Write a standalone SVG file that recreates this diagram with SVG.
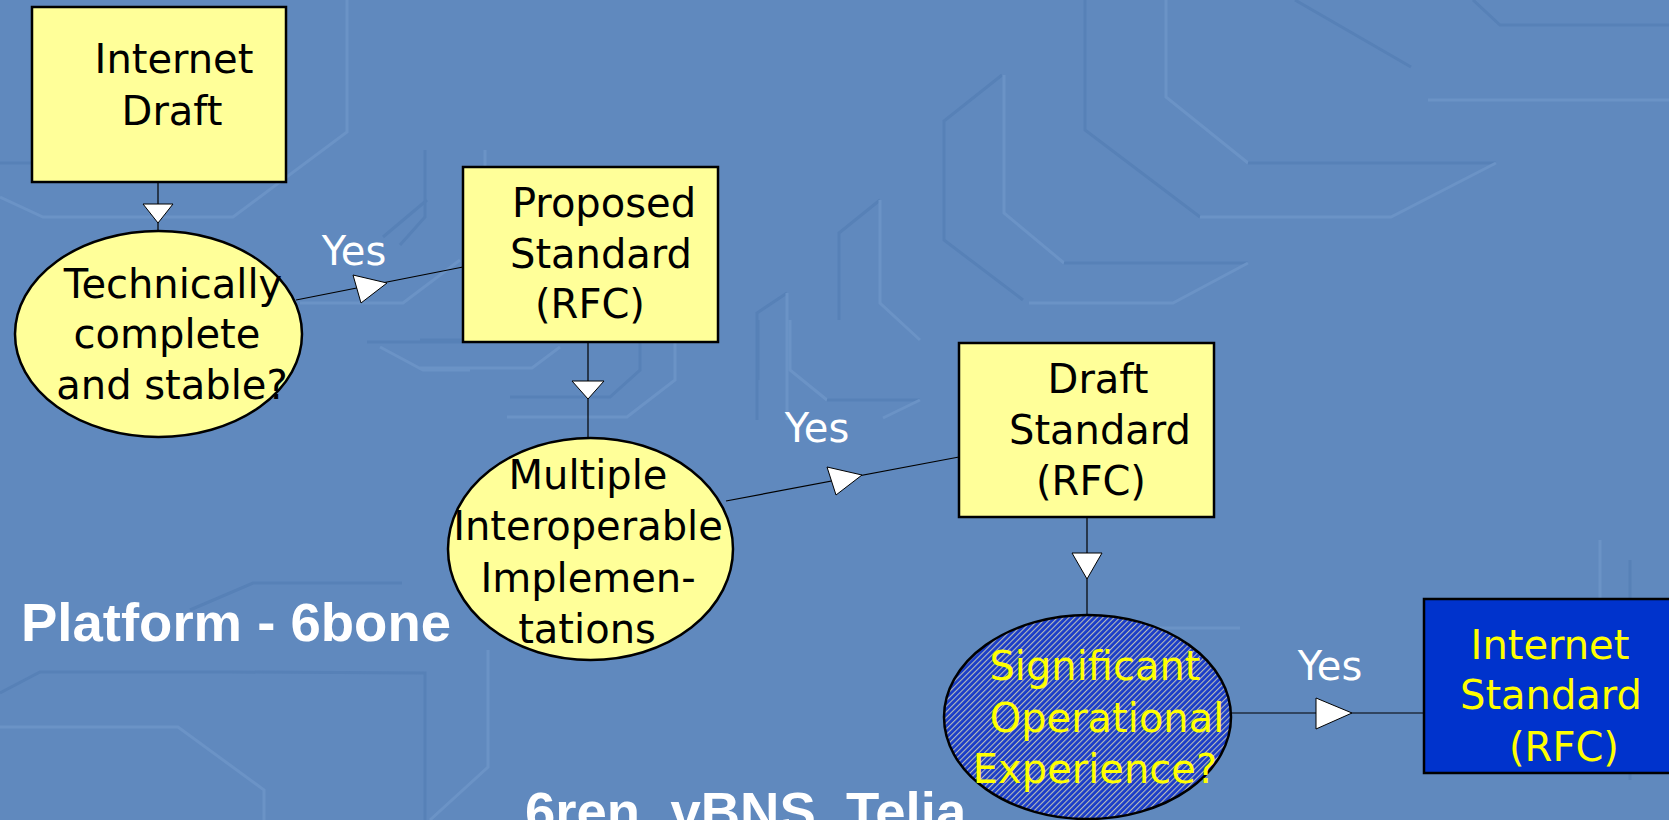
<svg xmlns="http://www.w3.org/2000/svg" width="1669" height="820" viewBox="0 0 1669 820">
  <defs>
    <pattern id="hatch" patternUnits="userSpaceOnUse" width="4" height="4" patternTransform="rotate(45)">
      <rect width="4" height="4" fill="#1a3cc8"/>
      <rect x="0" y="0" width="1.1" height="4" fill="#b8bdb8"/>
    </pattern>
    <style>
      .hi { fill: none; stroke: #6b93c6; stroke-width: 3; }
      .lo { fill: none; stroke: #5781b7; stroke-width: 3; }
      .box { fill: #ffff99; stroke: #000; stroke-width: 2.5; }
      .oval { fill: #ffff99; stroke: #000; stroke-width: 2.5; }
      .wire { fill: none; stroke: #000; stroke-width: 1.2; }
      .head { fill: #fff; stroke: #000; stroke-width: 1; }
      .t { font-family: "DejaVu Sans", "Liberation Sans", sans-serif; font-size: 40px; text-anchor: middle; fill: #000; }
      .y { fill: #ffff00; }
      .w { fill: #fff; }
      .big { font-family: "Liberation Sans", Arial, sans-serif; font-weight: bold; font-size: 54.5px; fill: #fff; }
    </style>
  </defs>

  <!-- backdrop with faint embossed circuit traces -->
  <rect width="1669" height="820" fill="#6089be"/>
  <g id="traces">
    <polyline class="hi" points="0,197 43,217 233,217 347,132 347,0"/>
    <polyline class="lo" points="0,163 95,163"/>
    <polyline class="lo" points="427,200 383,237"/>
    <polyline class="hi" points="300,303 403,303 460,260"/>
    <polyline class="lo" points="367,342 470,342"/>
    <polyline class="hi" points="380,347 423,370 470,370"/>
    <polyline class="lo" points="425,150 425,217 400,245"/>
    <polyline class="hi" points="485,150 485,168"/>
    <polyline class="hi" points="420,368 532,368 560,347"/>
    <polyline class="lo" points="420,340 463,340"/>
    <polyline class="lo" points="640,343 640,370 610,397 510,397"/>
    <polyline class="hi" points="675,342 675,380 627,417 507,417"/>
    <polyline class="lo" points="1002,75 944,121 944,240 1023,300"/>
    <polyline class="hi" points="1004,75 1004,213 1064,263"/>
    <polyline class="lo" points="1064,263 1248,263"/>
    <polyline class="hi" points="1248,263 1173,303 1029,303"/>
    <polyline class="lo" points="1085,0 1085,130 1200,217"/>
    <polyline class="hi" points="1166,0 1166,97 1248,163"/>
    <polyline class="lo" points="1248,163 1496,163"/>
    <polyline class="hi" points="1496,163 1391,217 1200,217"/>
    <polyline class="lo" points="1295,0 1411,67"/>
    <polyline class="hi" points="1428,100 1669,100"/>
    <polyline class="lo" points="1473,0 1500,25 1669,25"/>
    <polyline class="lo" points="880,200 839,233 839,320"/>
    <polyline class="hi" points="880,200 880,303 920,340"/>
    <polyline class="lo" points="787,293 757,313 757,420"/>
    <polyline class="hi" points="787,293 787,420"/>
    <polyline class="lo" points="758,320 758,380"/>
    <polyline class="hi" points="790,320 790,370 827,400"/>
    <polyline class="lo" points="827,400 920,400"/>
    <polyline class="hi" points="920,400 883,418"/>
    <polyline class="lo" points="0,693 40,672 230,672 425,673 425,820"/>
    <polyline class="hi" points="0,727 178,727 264,790 264,820"/>
    <polyline class="hi" points="488,650 488,767 430,820"/>
    <polyline class="lo" points="190,610 253,583 402,583"/>
    <polyline class="lo" points="1020,640 970,670 970,760"/>
    <polyline class="hi" points="1060,628 1240,628"/>
    <polyline class="lo" points="1630,560 1630,780"/>
    <polyline class="hi" points="1600,540 1600,760"/>
  </g>

  <!-- connectors -->
  <g id="connectors">
    <line class="wire" x1="158" y1="182" x2="158" y2="231"/>
    <polygon class="head" points="143,204 173,204 158,223"/>
    <line class="wire" x1="296" y1="300" x2="463" y2="267"/>
    <polygon class="head" points="353,275 387,283 361,303"/>
    <line class="wire" x1="588" y1="342" x2="588" y2="438" stroke="#333"/>
    <polygon class="head" points="572,381 604,381 588,399"/>
    <line class="wire" x1="726" y1="501" x2="959" y2="457"/>
    <polygon class="head" points="827,467 862,475 836,495"/>
    <line class="wire" x1="1087" y1="517" x2="1087" y2="615"/>
    <polygon class="head" points="1072,553 1102,553 1087,579"/>
    <line class="wire" x1="1231" y1="713" x2="1424" y2="713"/>
    <polygon class="head" points="1316,698 1352,713 1316,729"/>
    <text class="t w" x="354" y="265">Yes</text>
    <text class="t w" x="817" y="442">Yes</text>
    <text class="t w" x="1330" y="680">Yes</text>
  </g>

  <g id="internet-draft">
    <rect class="box" x="32" y="7" width="254" height="175"/>
    <text class="t" x="174" y="73">Internet</text>
    <text class="t" x="172" y="125">Draft</text>
  </g>

  <g id="technically-complete">
    <ellipse class="oval" cx="158.5" cy="334" rx="143.5" ry="103"/>
    <text class="t" x="173" y="298">Technically</text>
    <text class="t" x="167" y="348">complete</text>
    <text class="t" x="172" y="399">and stable?</text>
  </g>

  <g id="proposed-standard">
    <rect class="box" x="463" y="167" width="255" height="175"/>
    <text class="t" x="604" y="217">Proposed</text>
    <text class="t" x="601" y="268">Standard</text>
    <text class="t" x="590" y="318">(RFC)</text>
  </g>

  <g id="multiple-implementations">
    <ellipse class="oval" cx="590.5" cy="549" rx="142.5" ry="111"/>
    <text class="t" x="588" y="489">Multiple</text>
    <text class="t" x="588" y="540">Interoperable</text>
    <text class="t" x="588" y="592">Implemen-</text>
    <text class="t" x="587" y="643">tations</text>
  </g>

  <g id="draft-standard">
    <rect class="box" x="959" y="343" width="255" height="174"/>
    <text class="t" x="1098" y="393">Draft</text>
    <text class="t" x="1100" y="444">Standard</text>
    <text class="t" x="1091" y="495">(RFC)</text>
  </g>

  <g id="operational-experience">
    <ellipse cx="1087.5" cy="717" rx="143.5" ry="102" fill="url(#hatch)" stroke="#000" stroke-width="2.5"/>
    <text class="t y" x="1095" y="680">Significant</text>
    <text class="t y" x="1107" y="732">Operational</text>
    <text class="t y" x="1095" y="783">Experience?</text>
  </g>

  <g id="internet-standard">
    <rect x="1424" y="599" width="255" height="174" fill="#0033cc" stroke="#000" stroke-width="2.5"/>
    <text class="t y" x="1550" y="659">Internet</text>
    <text class="t y" x="1551" y="709">Standard</text>
    <text class="t y" x="1564" y="761">(RFC)</text>
  </g>

  <g id="platform-labels">
    <text class="big" x="21" y="641">Platform - 6bone</text>
    <text class="big" x="525" y="830">6ren, vBNS, Telia</text>
  </g>
</svg>
